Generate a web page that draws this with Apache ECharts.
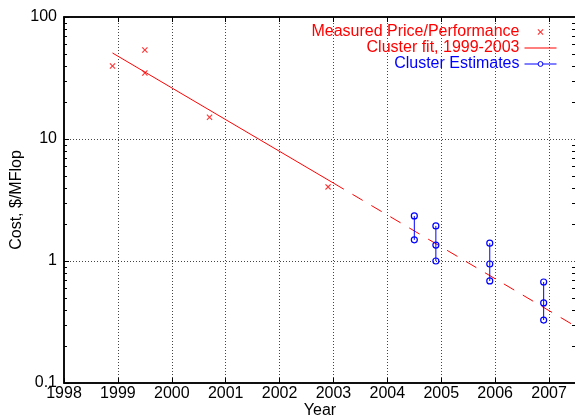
<!DOCTYPE html>
<html>
<head>
<meta charset="utf-8">
<script src="https://cdn.jsdelivr.net/npm/echarts@6/dist/echarts.min.js"></script>
<style>
  html, body { margin: 0; padding: 0; background: #fff; }
  #chart { width: 575px; height: 417px; }
</style>
</head>
<body>
<div id="chart"></div>
<script>
  // measured price/performance points [year, $/MFlop]
  const measured = [[1998.9, 39.6], [1999.5, 53.7], [1999.5, 34.8], [2000.7, 15.1], [2002.9, 4.05]]
  // fit line, solid over the fitted span and dashed as extrapolation
  const fitSolid = [[1998.9, 50.7], [2003.0, 4.35]]
  const fitDashed = [[2003.0, 4.35], [2007.5, 0.29]]
  // cluster estimates, one group per year
  const est2004a = [[2004.5, 2.34], [2004.5, 1.49]]
  const est2004b = [[2004.9, 1.94], [2004.9, 1.35], [2004.9, 1.0]]
  const est2005 = [[2005.9, 1.40], [2005.9, 0.945], [2005.9, 0.686]]
  const est2006 = [[2006.9, 0.673], [2006.9, 0.453], [2006.9, 0.328]]
  const minorTickValues = [0.2, 0.3, 0.4, 0.5, 0.6, 0.7, 0.8, 0.9, 2, 3, 4, 5, 6, 7, 8, 9, 20, 30, 40, 50, 60, 70, 80, 90]

  const RED = '#ff0000'
  const BLUE = '#0000ff'
  const FONT = 'Liberation Sans, Arial, Helvetica, sans-serif'
  const crossPath = 'path://M0,1.3L1.3,0L5,3.7L8.7,0L10,1.3L6.3,5L10,8.7L8.7,10L5,6.3L1.3,10L0,8.7L3.7,5Z'
  const linePath = 'path://M0,0L32,0L32,1L0,1Z'

  const chart = echarts.init(document.getElementById('chart'))

  function estSeries (data) {
    return {
      name: 'Cluster Estimates',
      type: 'line',
      data: data,
      symbol: 'circle',
      symbolSize: 6,
      showAllSymbol: true,
      lineStyle: { color: BLUE, width: 1 },
      itemStyle: { color: 'rgba(0,0,0,0)', borderColor: BLUE, borderWidth: 1.2 },
      animation: false,
      z: 4
    }
  }

  const gridLine = { show: true, lineStyle: { color: '#444', type: [1, 2], width: 1 } }

  chart.setOption({
    animation: false,
    textStyle: { fontFamily: FONT },
    grid: {
      left: 64, right: -1, top: 17, bottom: 34,
      outerBoundsMode: 'none',
      containLabel: false,
      show: true, borderColor: '#000', borderWidth: 1.5
    },
    legend: {
      orient: 'vertical',
      right: 13,
      top: 19,
      align: 'right',
      itemWidth: 32,
      itemHeight: 6,
      itemGap: 0,
      textStyle: { fontSize: 16, lineHeight: 16, fontFamily: FONT },
      data: [
        { name: 'Measured Price/Performance', icon: crossPath, itemStyle: { color: RED }, textStyle: { color: RED } },
        { name: 'Cluster fit, 1999-2003', icon: linePath, itemStyle: { color: RED }, lineStyle: { color: RED, width: 1 }, textStyle: { color: RED } },
        { name: 'Cluster Estimates', itemStyle: { color: '#fff', borderColor: BLUE, borderWidth: 1 }, lineStyle: { color: BLUE, width: 1 }, textStyle: { color: BLUE } }
      ]
    },
    xAxis: [{
      type: 'value',
      min: 1998,
      max: 2007.5,
      interval: 1,
      name: 'Year',
      nameLocation: 'middle',
      nameGap: 20,
      nameMoveOverlap: false,
      nameTextStyle: { fontSize: 16, color: '#000', fontFamily: FONT },
      axisLine: { lineStyle: { color: '#000', width: 1.5 } },
      axisTick: { inside: true, length: 5, lineStyle: { color: '#000' } },
      axisLabel: {
        fontSize: 16,
        color: '#000',
        margin: 3,
        fontFamily: FONT,
        formatter: v => Number.isInteger(v) ? String(v) : ''
      },
      splitLine: gridLine
    }, {
      type: 'value',
      position: 'top',
      min: 1998,
      max: 2007.5,
      interval: 1,
      axisLine: { lineStyle: { color: '#000', width: 1.5 } },
      axisTick: { inside: true, length: 5, lineStyle: { color: '#000' } },
      axisLabel: { show: false },
      splitLine: { show: false }
    }],
    yAxis: {
      type: 'log',
      logBase: 10,
      min: 0.1,
      max: 100,
      name: 'Cost, $/MFlop',
      nameLocation: 'middle',
      nameGap: 39,
      nameMoveOverlap: false,
      nameTextStyle: { fontSize: 16, color: '#000', fontFamily: FONT },
      axisLine: { lineStyle: { color: '#000', width: 1.5 } },
      axisTick: { inside: true, length: 5, lineStyle: { color: '#000' } },
      axisLabel: { fontSize: 16, color: '#000', margin: 7, fontFamily: FONT },
      splitLine: gridLine
    },
    series: [
      {
        name: 'Measured Price/Performance',
        type: 'scatter',
        data: measured,
        symbol: crossPath,
        symbolSize: 6,
        itemStyle: { color: RED },
        z: 5
      },
      {
        name: 'Cluster fit, 1999-2003',
        type: 'line',
        data: fitSolid,
        showSymbol: false,
        symbol: 'none',
        lineStyle: { color: RED, width: 1 },
        itemStyle: { color: RED },
        z: 3
      },
      {
        name: 'fit extrapolation',
        type: 'line',
        data: fitDashed,
        showSymbol: false,
        symbol: 'none',
        lineStyle: { color: RED, width: 1, type: [12, 10] },
        z: 3
      },
      estSeries(est2004a),
      estSeries(est2004b),
      estSeries(est2005),
      estSeries(est2006),
      {
        // minor ticks on the log axis, both sides of the frame
        type: 'custom',
        silent: true,
        data: minorTickValues.map(v => [1998, v]),
        renderItem: function (params, api) {
          const cs = params.coordSys
          const y = Math.round(api.coord([api.value(0), api.value(1)])[1]) + 0.5
          const style = { stroke: '#000', lineWidth: 1 }
          return {
            type: 'group',
            children: [
              { type: 'line', shape: { x1: cs.x, y1: y, x2: cs.x + 3, y2: y }, style: style },
              { type: 'line', shape: { x1: cs.x + cs.width - 4, y1: y, x2: cs.x + cs.width, y2: y }, style: style }
            ]
          }
        },
        z: 1
      }
    ]
  })
</script>
</body>
</html>
